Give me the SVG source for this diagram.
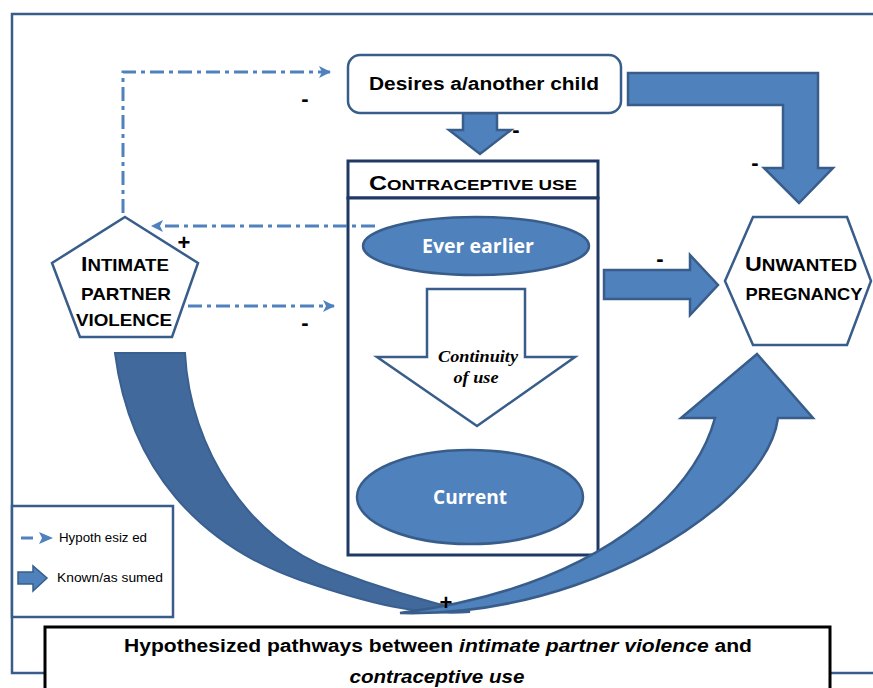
<svg xmlns="http://www.w3.org/2000/svg" width="873" height="688" viewBox="0 0 873 688">
<style>
.frame{fill:none;stroke:#385d8a;stroke-width:2.5}
.blk{fill:#4f81bd;stroke:#385d8a;stroke-width:2.5;stroke-linejoin:miter}
.dark{fill:#41699c;stroke:#3a6090;stroke-width:2}
.node{fill:#fff;stroke:#385d8a;stroke-width:2.5}
.dd{fill:none;stroke:#4f81bd;stroke-width:3;stroke-dasharray:14 5 4 5}
.lbl{font-family:"Liberation Sans",Arial,sans-serif;font-weight:bold;fill:#000}
.sign{font-family:"Liberation Sans",Arial,sans-serif;font-weight:bold;fill:#000;font-size:22px;text-anchor:middle}
.wt{font-family:"Open Sans","Liberation Sans",sans-serif;font-weight:bold;fill:#fff;font-size:19px;text-anchor:middle}
.ser{font-family:"Liberation Serif",serif;font-style:italic;font-weight:bold;font-size:16px;text-anchor:middle}
</style>
<defs>
<marker id="ah" viewBox="0 0 12 12" refX="11" refY="6" markerWidth="12" markerHeight="12" markerUnits="userSpaceOnUse" orient="auto">
<path d="M0,0 L12,6 L0,12 L3,6 Z" fill="#4f81bd"/>
</marker>
</defs>
<rect class="frame" x="12" y="14" width="880" height="659"/>

<g id="contraceptive">
<rect x="348" y="161" width="250" height="37" fill="#fff" stroke="#1f3864" stroke-width="3"/>
<rect x="348" y="198" width="250" height="357" fill="#fff" stroke="#1f3864" stroke-width="3"/>
<text class="lbl" x="473" y="190" text-anchor="middle" font-size="15" textLength="208" lengthAdjust="spacingAndGlyphs"><tspan font-size="20">C</tspan>ONTRACEPTIVE USE</text>
</g>

<g id="connectors">
<polyline class="dd" points="123,213 123,72 330,72" marker-end="url(#ah)"/>
<line class="dd" x1="375" y1="226" x2="152" y2="226" marker-end="url(#ah)"/>
<line class="dd" x1="188" y1="306" x2="334" y2="306" marker-end="url(#ah)"/>
<path class="blk" d="M463,113 L497,113 L497,130 L511,130 L480,154 L449,130 L463,130 Z"/>
<path class="blk" d="M628,73 L818,73 L818,168 L833,168 L799,203 L764,168 L783,168 L783,105 L628,105 Z"/>
<path class="blk" d="M604,270 L690,270 L690,255 L718,285 L690,315 L690,299 L604,299 Z"/>
<path class="dark" d="M115,353 L185,353 C190,450 250,540 333,570 C380,588 420,600 470,612 C420,616 370,604 300,580 C200,545 130,470 115,353 Z"/>
<path class="blk" d="M400,613 C520,616 640,572 720,505 C760,470 775,440 778,418 L813,418 L757,354 L681,418 L715,418 C705,455 680,490 640,523 C580,570 500,600 400,613 Z"/>
<text class="sign" x="305" y="106">-</text>
<text class="sign" x="516" y="137">-</text>
<text class="sign" x="755" y="170">-</text>
<text class="sign" x="660" y="266">-</text>
<text class="sign" x="184" y="250">+</text>
<text class="sign" x="305" y="330">-</text>
<text class="sign" x="446" y="610">+</text>
</g>

<g id="desires">
<rect class="node" x="348" y="55" width="273" height="58" rx="12"/>
<text class="lbl" x="484" y="90" font-size="17.5" text-anchor="middle" textLength="230" lengthAdjust="spacingAndGlyphs">Desires a/another child</text>
</g>

<g id="ipv">
<polygon class="node" points="125,217 198,263 172,337 80,337 52,263"/>
<text class="lbl" x="125" y="271" text-anchor="middle" font-size="17" textLength="88" lengthAdjust="spacingAndGlyphs"><tspan font-size="21">I</tspan>NTIMATE</text>
<text class="lbl" x="126" y="300" text-anchor="middle" font-size="17" textLength="90" lengthAdjust="spacingAndGlyphs">PARTNER</text>
<text class="lbl" x="124" y="326" text-anchor="middle" font-size="17" textLength="96" lengthAdjust="spacingAndGlyphs">VIOLENCE</text>
</g>

<g id="ever">
<ellipse class="blk" cx="476" cy="246" rx="113" ry="29"/>
<text class="wt" x="478" y="253" textLength="112" lengthAdjust="spacingAndGlyphs">Ever earlier</text>
</g>

<g id="continuity">
<path class="node" d="M427,289 L525,289 L525,357 L575,357 L477,426 L377,357 L427,357 Z"/>
<text class="ser" x="478" y="362" textLength="80" lengthAdjust="spacingAndGlyphs">Continuity</text>
<text class="ser" x="476" y="383" textLength="45" lengthAdjust="spacingAndGlyphs">of use</text>
</g>

<g id="current">
<ellipse class="blk" cx="470" cy="497" rx="113" ry="47"/>
<text class="wt" x="470" y="504" textLength="74" lengthAdjust="spacingAndGlyphs">Current</text>
</g>

<g id="unwanted">
<polygon class="node" points="753,217 847,217 871,281 847,345 753,345 725,281"/>
<text class="lbl" x="801" y="271" text-anchor="middle" font-size="17" textLength="112" lengthAdjust="spacingAndGlyphs"><tspan font-size="21">U</tspan>NWANTED</text>
<text class="lbl" x="804" y="300" text-anchor="middle" font-size="17" textLength="117" lengthAdjust="spacingAndGlyphs">PREGNANCY</text>
</g>

<g id="legend">
<rect x="12" y="506" width="161" height="111" fill="#fff" stroke="#385d8a" stroke-width="2.5"/>
<line x1="21" y1="538" x2="33" y2="538" stroke="#4f81bd" stroke-width="3"/>
<path d="M39,532 L53,538 L39,544 L42,538 Z" fill="#4f81bd"/>
<text x="59" y="542" font-family="'Liberation Sans',Arial,sans-serif" font-size="13" fill="#000" textLength="88" lengthAdjust="spacingAndGlyphs">Hypoth esiz ed</text>
<path d="M18,572 L33,572 L33,566 L47,578 L33,591 L33,584 L18,584 Z" fill="#4f81bd" stroke="#385d8a" stroke-width="1.5"/>
<text x="57" y="582" font-family="'Liberation Sans',Arial,sans-serif" font-size="13" fill="#000" textLength="106" lengthAdjust="spacingAndGlyphs">Known/as sumed</text>
</g>

<g id="caption">
<rect x="45" y="627" width="785" height="70" fill="#fff" stroke="#000" stroke-width="3"/>
<text class="lbl" x="438" y="652" text-anchor="middle" font-size="17.5" textLength="628" lengthAdjust="spacingAndGlyphs">Hypothesized pathways between <tspan font-style="italic">intimate partner violence</tspan> and</text>
<text class="lbl" x="437" y="683" text-anchor="middle" font-size="18" font-style="italic" textLength="175" lengthAdjust="spacingAndGlyphs">contraceptive use</text>
</g>
</svg>
